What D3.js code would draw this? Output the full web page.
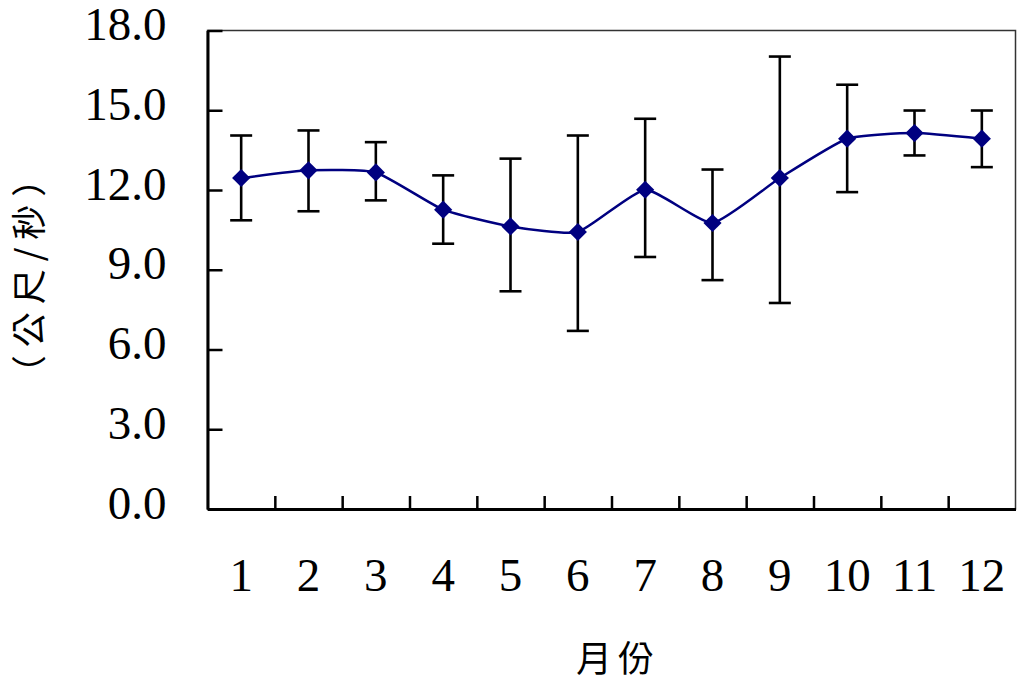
<!DOCTYPE html>
<html>
<head>
<meta charset="utf-8">
<script src="https://cdn.jsdelivr.net/npm/d3@7"></script>
<style>
  html, body { margin: 0; padding: 0; background: #fff; }
  svg { display: block; }
</style>
</head>
<body>
<svg id="chart" width="1017" height="684"></svg>
<script>
const months = ["1","2","3","4","5","6","7","8","9","10","11","12"];
const means  = [12.45, 12.74, 12.66, 11.26, 10.63, 10.42, 12.01, 10.76, 12.45, 13.93, 14.14, 13.93];
const upper  = [14.05, 14.24, 13.80, 12.55, 13.18, 14.05, 14.68, 12.77, 17.02, 15.96, 14.99, 14.99];
const lower  = [10.86, 11.20, 11.61, 9.98, 8.19, 6.70, 9.48, 8.61, 7.75, 11.92, 13.30, 12.86];
const yTicks = [0, 3, 6, 9, 12, 15, 18];
const xTitle = "月份";
const yTitle = "（公尺/秒）";

const svg = d3.select("#chart");
const L = 207.5, R = 1015.5, T = 30.5, B = 509;
const serif = "'Liberation Serif', 'DejaVu Serif', serif";
const cjk = "'Noto Sans CJK TC', 'Noto Sans CJK SC', sans-serif";

const x = d3.scaleBand().domain(months).range([L, R]).padding(0);
const xIdx = d3.scaleLinear().domain([0, months.length]).range([L, R]);
const y = d3.scaleLinear().domain([0, 18]).range([B, T]);

// plot border (top/right)
svg.append("rect")
  .attr("x", L).attr("y", T).attr("width", R - L).attr("height", B - T)
  .attr("fill", "none").attr("stroke", "#333").attr("stroke-width", 1.5);

// Y axis
const yAxis = svg.append("g").attr("transform", `translate(${L},0)`)
  .call(d3.axisLeft(y).tickValues(yTicks).tickFormat(d3.format(".1f"))
        .tickSizeInner(-15).tickSizeOuter(0).tickPadding(41));
yAxis.select(".domain").attr("stroke", "#000").attr("stroke-width", 3);
yAxis.selectAll(".tick line").attr("stroke", "#000").attr("stroke-width", 2.5);
yAxis.selectAll(".tick text").attr("font-family", serif).attr("font-size", 47)
  .attr("fill", "#000").attr("dy", "9px");

// X axis boundary ticks
const xTickAxis = svg.append("g").attr("transform", `translate(0,${B})`)
  .call(d3.axisBottom(xIdx).tickValues(d3.range(1, months.length))
        .tickFormat("").tickSizeInner(-13).tickSizeOuter(0));
xTickAxis.select(".domain").attr("stroke", "#000").attr("stroke-width", 3);
xTickAxis.selectAll(".tick line").attr("stroke", "#000").attr("stroke-width", 2.5);

// X labels
const xAxis = svg.append("g").attr("transform", `translate(0,${B})`)
  .call(d3.axisBottom(x).tickSize(0));
xAxis.select(".domain").remove();
xAxis.selectAll(".tick text").attr("font-family", serif).attr("font-size", 47)
  .attr("fill", "#000").attr("y", 82).attr("dy", 0);

const cx = (i) => x(months[i]) + x.bandwidth() / 2;

// line
const line = d3.line()
  .x((d, i) => cx(i))
  .y(d => y(d))
  .curve(d3.curveCardinal.tension(0.5));
svg.append("path").datum(means)
  .attr("d", line).attr("fill", "none")
  .attr("stroke", "#000080").attr("stroke-width", 2.5);

// error bars
const eb = svg.append("g").attr("stroke", "#000").attr("stroke-width", 2.6);
months.forEach((m, i) => {
  const xc = cx(i);
  eb.append("line").attr("x1", xc).attr("x2", xc).attr("y1", y(upper[i])).attr("y2", y(lower[i]));
  eb.append("line").attr("x1", xc - 11).attr("x2", xc + 11).attr("y1", y(upper[i])).attr("y2", y(upper[i]));
  eb.append("line").attr("x1", xc - 11).attr("x2", xc + 11).attr("y1", y(lower[i])).attr("y2", y(lower[i]));
});

// markers
const sym = d3.symbol().type(d3.symbolSquare).size(165);
svg.append("g").selectAll("path").data(means).join("path")
  .attr("d", sym)
  .attr("transform", (d, i) => `translate(${cx(i)},${y(d)}) rotate(45)`)
  .attr("fill", "#000080");

// axis titles
svg.append("text").attr("x", 618).attr("y", 672)
  .attr("text-anchor", "middle").attr("font-family", cjk).attr("font-size", 36)
  .attr("letter-spacing", "6px").attr("fill", "#000").text(xTitle);

svg.append("text")
  .attr("transform", "translate(42,272) rotate(-90)")
  .attr("text-anchor", "middle").attr("font-family", cjk).attr("font-size", 35)
  .attr("letter-spacing", "8px").attr("fill", "#000").text(yTitle);
</script>
</body>
</html>
